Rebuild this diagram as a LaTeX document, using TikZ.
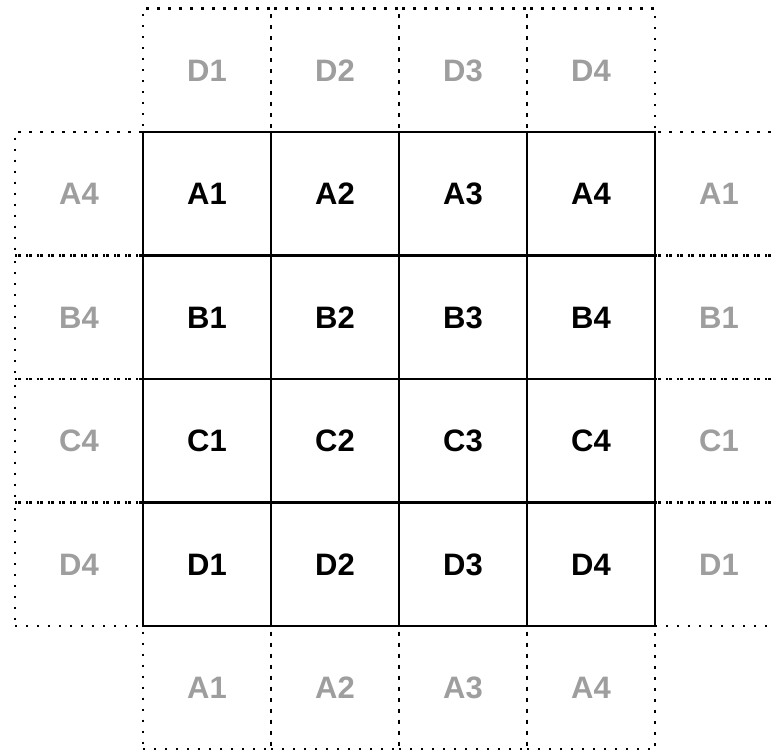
\documentclass[tikz,border=0pt]{standalone}
\usepackage{fontspec}
\setmainfont{Liberation Sans}
\begin{document}
\begin{tikzpicture}[x=0.5pt,y=-0.5pt,
  cell/.style={minimum width=64pt,minimum height=61.75pt,inner sep=0pt,outer sep=0pt,
    text height=11pt,text depth=0pt,font=\fontsize{15.5}{18}\selectfont\bfseries},
  tile/.style={cell,draw,line width=1.2pt},
  ghost/.style={cell,draw,text=black!38,line width=1.1pt,dash pattern=on 1.1pt off 4.4pt}]
\useasboundingbox (0,0) rectangle (772,750);
\clip (0,0) rectangle (772,750);
% wrapped neighbours
\foreach \c in {1,2,3,4} {
  \node[ghost] (top\c) at ({143+128*(\c-0.5)},{132-61.75}) {D\c};
  \node[ghost] (bot\c) at ({143+128*(\c-0.5)},{626+61.75}) {A\c};
}
\foreach \r [count=\i] in {A,B,C,D} {
  \node[ghost] (left\r) at ({143-64},{132+123.5*(\i-0.5)}) {\r4};
  \node[ghost] (right\r) at ({655+64},{132+123.5*(\i-0.5)}) {\r1};
}
% the board
\foreach \r [count=\i] in {A,B,C,D}
  \foreach \c in {1,2,3,4}
    \node[tile] (\r\c) at ({143+128*(\c-0.5)},{132+123.5*(\i-0.5)}) {\r\c};
\end{tikzpicture}
\end{document}
